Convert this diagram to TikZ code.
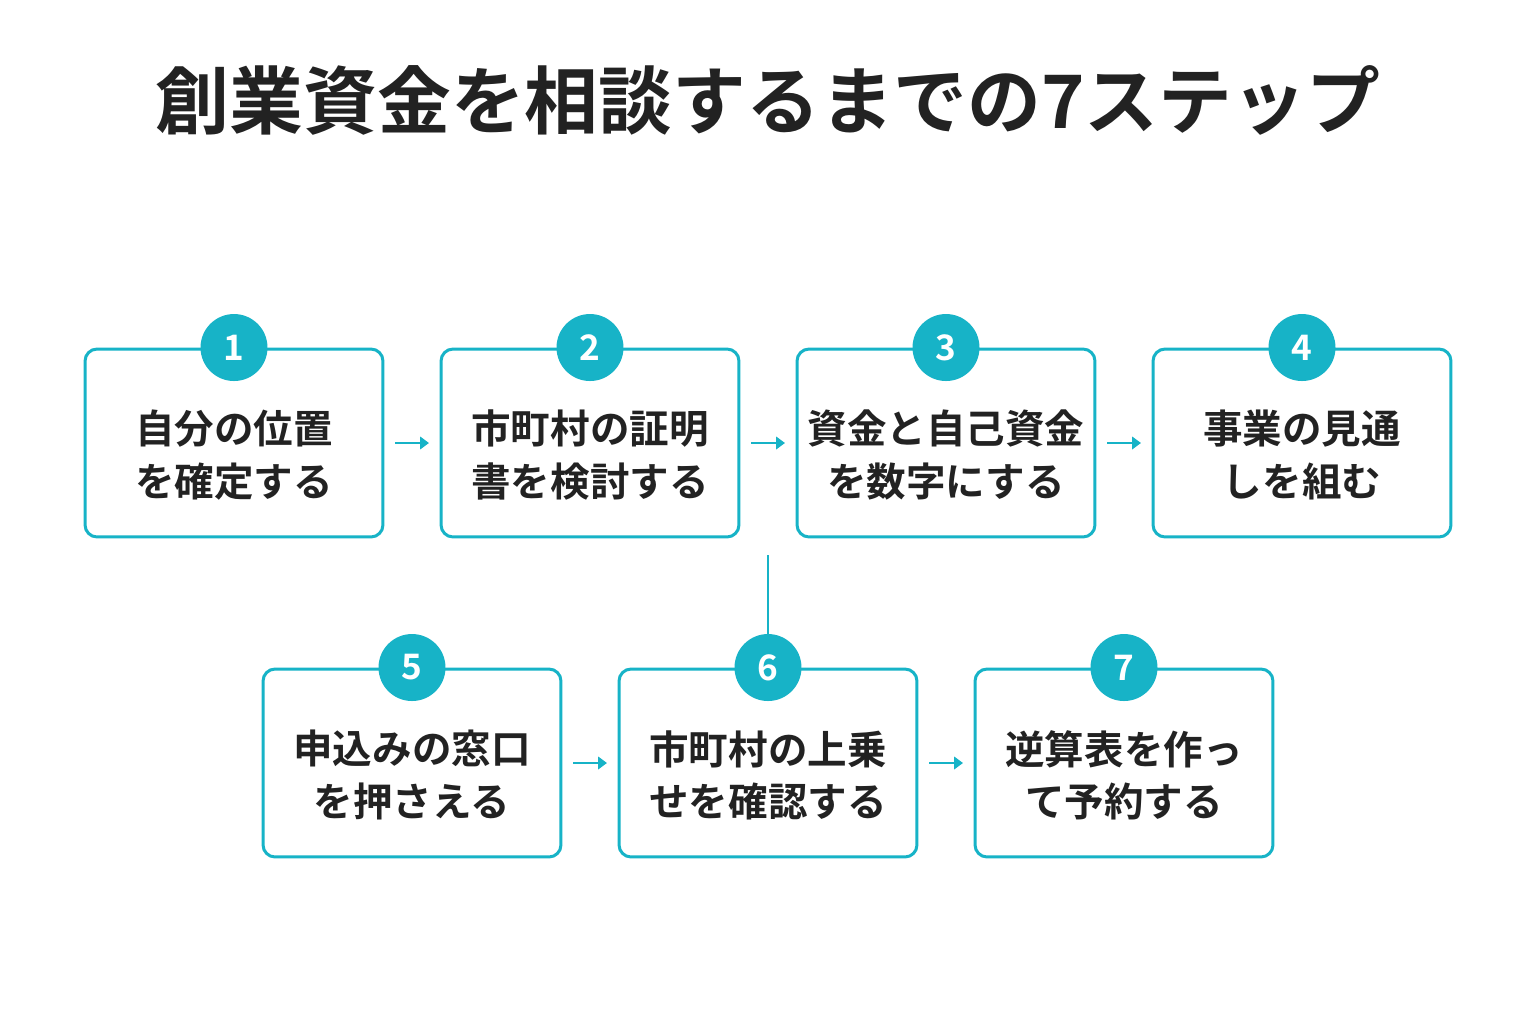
\documentclass[tikz,border=0pt]{standalone}
\usepackage{fontspec}
\setmainfont{Noto Sans CJK JP}[BoldFont={Noto Sans CJK JP Bold}]
\usetikzlibrary{positioning,arrows.meta}
\definecolor{teal1}{HTML}{17B3C7}
\definecolor{ink}{HTML}{222222}
\tikzset{
  stepbox/.style={draw=teal1, line width=1.7pt, rounded corners=0.24cm, minimum width=5.96cm, minimum height=3.76cm},
  steptext/.style={align=center, text=ink, font=\fontsize{22.5}{30}\selectfont\bfseries},
  num/.style={circle, fill=teal1, minimum size=1.34cm, inner sep=0pt, text=white, font=\fontsize{20}{20}\selectfont\bfseries},
  link/.style={draw=teal1, line width=1.7pt, -{Triangle[length=5pt,width=7pt]}}
}
\begin{document}
\begin{tikzpicture}[x=0.02cm,y=-0.02cm]
    \useasboundingbox[fill=white] (0,0) rectangle (1536,1024);
    % title
    \node[font=\fontsize{42}{42}\selectfont\bfseries, text=ink] (title) at (768,100) {創業資金を相談するまでの7ステップ};

    % boxes
    \node[stepbox] (s1) at (234,443) {};
    \node[stepbox] (s2) at (590,443) {};
    \node[stepbox] (s3) at (946,443) {};
    \node[stepbox] (s4) at (1302,443) {};
    \node[stepbox] (s5) at (412,763) {};
    \node[stepbox] (s6) at (768,763) {};
    \node[stepbox] (s7) at (1124,763) {};

    % texts
    \node[steptext] (t1) at ([yshift=-7pt]s1.center) {自分の位置\\を確定する};
    \node[steptext] (t2) at ([yshift=-7pt]s2.center) {市町村の証明\\書を検討する};
    \node[steptext] (t3) at ([yshift=-7pt]s3.center) {資金と自己資金\\を数字にする};
    \node[steptext] (t4) at ([yshift=-7pt]s4.center) {事業の見通\\しを組む};
    \node[steptext] (t5) at ([yshift=-7pt]s5.center) {申込みの窓口\\を押さえる};
    \node[steptext] (t6) at ([yshift=-7pt]s6.center) {市町村の上乗\\せを確認する};
    \node[steptext] (t7) at ([yshift=-7pt]s7.center) {逆算表を作っ\\て予約する};

    % numbers
    \foreach \i in {1,...,7}
        \node[num] (n\i) at (s\i.north) {\i};

    % arrows
    \foreach \a/\b in {s1/s2,s2/s3,s3/s4,s5/s6,s6/s7}
        \draw[link] ([xshift=6pt]\a.east) -- ([xshift=-6pt]\b.west);
    \coordinate (drop) at (768,555);
    \draw[draw=teal1, line width=1.7pt] (drop) -- (n6.north);
\end{tikzpicture}
\end{document}
